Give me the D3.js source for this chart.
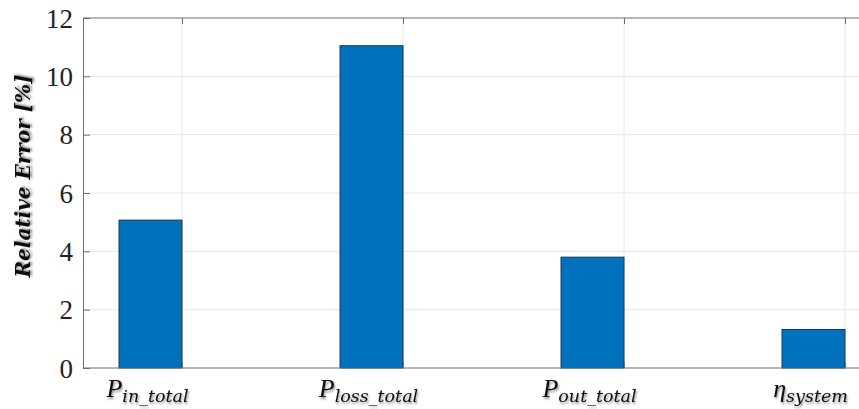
<!DOCTYPE html>
<html>
<head>
<meta charset="utf-8">
<script src="https://cdn.jsdelivr.net/npm/d3@7"></script>
<style>
  html, body { margin: 0; padding: 0; background: #fff; }
  svg { display: block; }
</style>
</head>
<body>
<svg id="chart" width="859" height="409"></svg>
<script>
// ---- data ----
const categories = ["P_in_total", "P_loss_total", "P_out_total", "η_system"];
const labelMain = ["P", "P", "P", "η"];
const labelSub = ["in_total", "loss_total", "out_total", "system"];
const values = [5.07, 11.05, 3.8, 1.32];
const yTicks = [0, 2, 4, 6, 8, 10, 12];
const yLabel = "Relative Error [%]";

(function () {
// ---- layout ----
const W = 859, H = 409;
const pLeft = 83, pTop = 18, pBottom = 368;
const svg = d3.select("#chart");

const idx = d3.range(1, categories.length + 1);
const x = d3.scaleLinear().domain([0.552, 4.5]).range([pLeft, pLeft + (4.5 - 0.552) * 221]);
const y = d3.scaleLinear().domain([0, 12]).range([pBottom, pTop]);
const barW = 0.285; // in category units

const axisColor = "#6e6e6e";
const gridColor = "#e6e6e6";

const defs = svg.append("defs");
const f = defs.append("filter").attr("id", "shadow").attr("x", "-10%").attr("y", "-20%").attr("width", "130%").attr("height", "150%");
f.append("feGaussianBlur").attr("in", "SourceAlpha").attr("stdDeviation", 1.2).attr("result", "b");
f.append("feOffset").attr("in", "b").attr("dx", 1).attr("dy", 1.5).attr("result", "o");
f.append("feComponentTransfer").attr("in", "o").attr("result", "t")
  .append("feFuncA").attr("type", "linear").attr("slope", 0.45);
const m = f.append("feMerge");
m.append("feMergeNode").attr("in", "t");
m.append("feMergeNode").attr("in", "SourceGraphic");

// grid
const g = svg.append("g");
g.selectAll("line.hg").data(yTicks.filter(d => d > 0 && d < 12)).enter().append("line")
  .attr("x1", pLeft).attr("x2", W).attr("y1", d => y(d)).attr("y2", d => y(d))
  .attr("stroke", gridColor).attr("stroke-width", 1);
g.selectAll("line.vg").data(idx).enter().append("line")
  .attr("x1", d => x(d)).attr("x2", d => x(d)).attr("y1", pTop).attr("y2", pBottom)
  .attr("stroke", gridColor).attr("stroke-width", 1);

// bars
svg.append("g").selectAll("rect").data(values).enter().append("rect")
  .attr("x", (d, i) => x(i + 1 - barW))
  .attr("width", (d, i) => x(i + 1) - x(i + 1 - barW))
  .attr("y", d => y(d))
  .attr("height", d => y(0) - y(d))
  .attr("fill", "#0072BD")
  .attr("stroke", "#1c3552")
  .attr("stroke-width", 1);

// y axis
const yAxis = svg.append("g").attr("transform", `translate(${pLeft},0)`)
  .call(d3.axisLeft(y).tickValues(yTicks).tickSize(-7).tickPadding(10).tickFormat(d3.format("d")));
yAxis.select(".domain").attr("stroke", axisColor);
yAxis.selectAll(".tick line").attr("stroke", axisColor);
yAxis.selectAll(".tick text")
  .attr("font-family", "'Liberation Serif', 'Times New Roman', serif")
  .attr("font-size", 27).attr("fill", "#222").attr("dy", "0.34em");

// x axis (bottom) with inward ticks
const xAxis = svg.append("g").attr("transform", `translate(0,${pBottom})`)
  .call(d3.axisBottom(x).tickValues(idx).tickSize(-6).tickFormat(""));
xAxis.select(".domain").remove();
xAxis.selectAll(".tick line").attr("stroke", axisColor);
// top ticks
const xTop = svg.append("g").attr("transform", `translate(0,${pTop})`)
  .call(d3.axisTop(x).tickValues(idx).tickSize(-6).tickFormat(""));
xTop.select(".domain").remove();
xTop.selectAll(".tick line").attr("stroke", axisColor);

// box lines
svg.append("line").attr("x1", pLeft).attr("x2", W).attr("y1", pBottom).attr("y2", pBottom).attr("stroke", axisColor).attr("stroke-width", 1.2);
svg.append("line").attr("x1", pLeft).attr("x2", W).attr("y1", pTop).attr("y2", pTop).attr("stroke", axisColor).attr("stroke-width", 1.2);

// x labels
const lab = svg.append("g").selectAll("text").data(categories).enter().append("text")
  .attr("x", (d, i) => x(i + 1 - barW / 2) - 3)
  .attr("y", 397)
  .attr("text-anchor", "middle")
  .attr("font-family", "'DejaVu Serif', 'Liberation Serif', serif")
  .attr("font-style", "italic")
  .attr("fill", "#111")
  .attr("filter", "url(#shadow)");
lab.append("tspan").attr("font-size", 26).attr("font-family", "'Liberation Serif', serif").text((d, i) => labelMain[i]);
lab.append("tspan").attr("font-size", 17.5).attr("dy", 5).text((d, i) => labelSub[i]);

// y label
svg.append("text")
  .attr("transform", `translate(30,${176}) rotate(-90)`)
  .attr("text-anchor", "middle")
  .attr("font-family", "'DejaVu Serif', serif")
  .attr("font-style", "italic")
  .attr("font-weight", "bold")
  .attr("font-size", 20)
  .attr("fill", "#111")
  .attr("filter", "url(#shadow)")
  .text(yLabel);
})();
</script>
</body>
</html>
